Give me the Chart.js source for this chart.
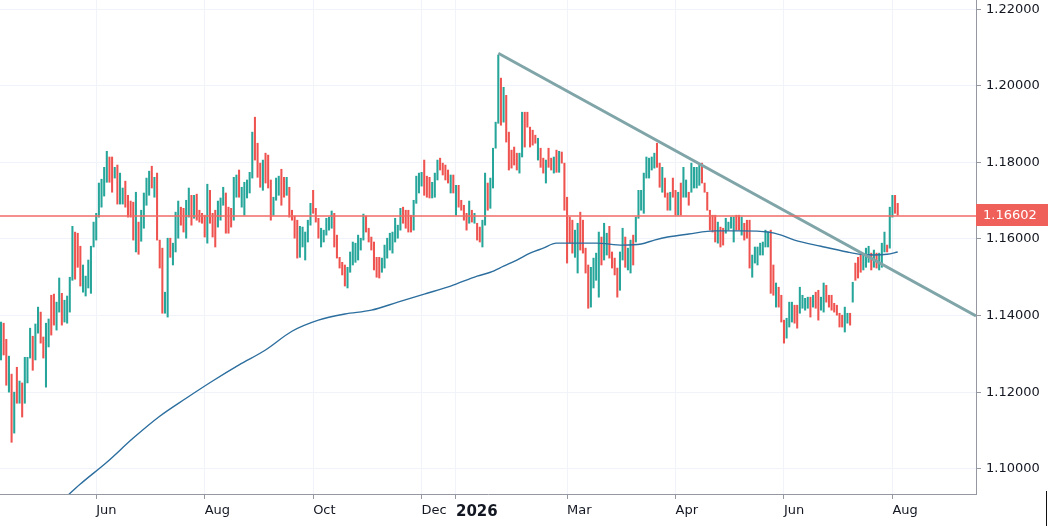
<!DOCTYPE html>
<html>
<head>
<meta charset="utf-8">
<title>Price chart</title>
<script src="https://cdn.jsdelivr.net/npm/chart.js@4.4.1/dist/chart.umd.min.js"></script>
<style>
  html, body { margin: 0; padding: 0; background: #fff; }
  #wrap { position: relative; width: 1048px; height: 526px; }
</style>
</head>
<body>
<div id="wrap"><canvas id="chart"></canvas></div>
<script>
// Daily bars (high / low, u = up bar, d = down bar)
const barHigh = [
  1.1383,1.1380,1.1338,1.1294,1.1247,1.1200,1.1265,1.1229,1.1224,1.1291,
  1.1291,1.1367,1.1346,1.1378,1.1422,1.1409,1.1344,1.1380,1.1391,1.1453,
  1.1456,1.1435,1.1498,1.1458,1.1440,1.1451,1.1500,1.1633,1.1618,1.1615,
  1.1581,1.1532,1.1503,1.1545,1.1581,1.1644,1.1667,1.1746,1.1756,1.1787,
  1.1829,1.1814,1.1814,1.1787,1.1793,1.1772,1.1733,1.1751,1.1714,1.1699,
  1.1696,1.1722,1.1644,1.1675,1.1720,1.1759,1.1777,1.1790,1.1761,1.1772,
  1.1597,1.1576,1.1461,1.1602,1.1602,1.1589,1.1670,1.1699,1.1683,1.1680,
  1.1701,1.1733,1.1714,1.1714,1.1717,1.1675,1.1667,1.1662,1.1743,1.1727,
  1.1667,1.1675,1.1699,1.1707,1.1735,1.1720,1.1683,1.1680,1.1761,1.1767,
  1.1780,1.1735,1.1748,1.1754,1.1774,1.1879,1.1918,1.1850,1.1798,1.1806,
  1.1824,1.1819,1.1754,1.1709,1.1759,1.1764,1.1782,1.1761,1.1761,1.1735,
  1.1675,1.1660,1.1649,1.1633,1.1631,1.1618,1.1649,1.1693,1.1727,1.1680,
  1.1654,1.1628,1.1623,1.1654,1.1657,1.1673,1.1667,1.1610,1.1552,1.1539,
  1.1532,1.1526,1.1566,1.1592,1.1589,1.1610,1.1602,1.1665,1.1660,1.1628,
  1.1605,1.1592,1.1552,1.1552,1.1550,1.1584,1.1602,1.1615,1.1618,1.1654,
  1.1636,1.1680,1.1683,1.1675,1.1675,1.1662,1.1701,1.1764,1.1772,1.1774,
  1.1806,1.1764,1.1761,1.1748,1.1772,1.1806,1.1811,1.1798,1.1793,1.1780,
  1.1767,1.1767,1.1740,1.1740,1.1701,1.1688,1.1667,1.1699,1.1675,1.1667,
  1.1641,1.1631,1.1649,1.1772,1.1746,1.1759,1.1837,1.1905,1.2080,1.2020,
  1.1996,1.1975,1.1879,1.1832,1.1840,1.1824,1.1824,1.1931,1.1931,1.1931,
  1.1892,1.1884,1.1871,1.1863,1.1837,1.1811,1.1806,1.1837,1.1811,1.1814,
  1.1832,1.1829,1.1827,1.1798,1.1709,1.1657,1.1649,1.1623,1.1641,1.1670,
  1.1649,1.1576,1.1532,1.1526,1.1550,1.1563,1.1618,1.1605,1.1641,1.1615,
  1.1633,1.1566,1.1550,1.1524,1.1566,1.1628,1.1605,1.1576,1.1597,1.1610,
  1.1657,1.1727,1.1727,1.1772,1.1814,1.1811,1.1814,1.1824,1.1850,1.1798,
  1.1787,1.1759,1.1720,1.1722,1.1759,1.1727,1.1722,1.1746,1.1787,1.1754,
  1.1722,1.1798,1.1787,1.1787,1.1793,1.1798,1.1746,1.1722,1.1675,1.1662,
  1.1662,1.1644,1.1631,1.1628,1.1654,1.1644,1.1657,1.1657,1.1662,1.1662,
  1.1657,1.1641,1.1649,1.1649,1.1558,1.1579,1.1579,1.1589,1.1592,1.1623,
  1.1618,1.1623,1.1532,1.1485,1.1474,1.1453,1.1388,1.1393,1.1435,1.1435,
  1.1427,1.1427,1.1474,1.1453,1.1445,1.1448,1.1448,1.1453,1.1461,1.1466,
  1.1448,1.1485,1.1479,1.1453,1.1453,1.1432,1.1427,1.1406,1.1401,1.1422,
  1.1406,1.1406,1.1487,1.1537,1.1552,1.1558,1.1558,1.1576,1.1581,1.1563,
  1.1571,1.1563,1.1563,1.1589,1.1618,1.1584,1.1683,1.1714,1.1714,1.1693
];
const barLow = [
  1.1284,1.1297,1.1218,1.1200,1.1069,1.1093,1.1171,1.1171,1.1135,1.1171,
  1.1224,1.1289,1.1257,1.1284,1.1354,1.1328,1.1289,1.1213,1.1318,1.1349,
  1.1375,1.1362,1.1409,1.1375,1.1383,1.1380,1.1409,1.1492,1.1495,1.1526,
  1.1477,1.1461,1.1451,1.1472,1.1458,1.1579,1.1597,1.1657,1.1683,1.1712,
  1.1748,1.1748,1.1722,1.1759,1.1691,1.1691,1.1691,1.1683,1.1657,1.1657,
  1.1597,1.1566,1.1560,1.1594,1.1628,1.1688,1.1714,1.1733,1.1709,1.1597,
  1.1524,1.1406,1.1406,1.1396,1.1552,1.1532,1.1566,1.1602,1.1636,1.1618,
  1.1602,1.1657,1.1636,1.1654,1.1649,1.1644,1.1641,1.1605,1.1589,1.1641,
  1.1605,1.1579,1.1631,1.1649,1.1688,1.1615,1.1615,1.1631,1.1649,1.1709,
  1.1709,1.1683,1.1662,1.1707,1.1720,1.1759,1.1806,1.1761,1.1735,1.1727,
  1.1746,1.1733,1.1649,1.1662,1.1701,1.1714,1.1688,1.1709,1.1714,1.1657,
  1.1649,1.1602,1.1550,1.1552,1.1579,1.1545,1.1592,1.1636,1.1667,1.1644,
  1.1602,1.1579,1.1592,1.1610,1.1623,1.1628,1.1579,1.1550,1.1524,1.1506,
  1.1477,1.1472,1.1513,1.1532,1.1539,1.1545,1.1571,1.1597,1.1618,1.1592,
  1.1571,1.1519,1.1500,1.1498,1.1513,1.1524,1.1550,1.1571,1.1563,1.1592,
  1.1602,1.1623,1.1641,1.1628,1.1618,1.1618,1.1623,1.1693,1.1720,1.1738,
  1.1714,1.1709,1.1707,1.1707,1.1709,1.1754,1.1780,1.1767,1.1754,1.1746,
  1.1720,1.1720,1.1662,1.1683,1.1675,1.1649,1.1623,1.1641,1.1644,1.1641,
  1.1597,1.1592,1.1579,1.1636,1.1675,1.1680,1.1733,1.1837,1.1902,1.1897,
  1.1905,1.1853,1.1780,1.1785,1.1793,1.1780,1.1772,1.1814,1.1840,1.1892,
  1.1840,1.1845,1.1850,1.1806,1.1787,1.1772,1.1746,1.1787,1.1780,1.1772,
  1.1774,1.1774,1.1798,1.1675,1.1537,1.1589,1.1563,1.1552,1.1511,1.1571,
  1.1563,1.1511,1.1419,1.1422,1.1472,1.1492,1.1448,1.1532,1.1545,1.1558,
  1.1550,1.1524,1.1506,1.1448,1.1466,1.1545,1.1526,1.1519,1.1511,1.1532,
  1.1592,1.1654,1.1675,1.1667,1.1759,1.1759,1.1780,1.1785,1.1787,1.1735,
  1.1722,1.1709,1.1675,1.1675,1.1709,1.1662,1.1662,1.1662,1.1709,1.1709,
  1.1688,1.1722,1.1733,1.1733,1.1740,1.1746,1.1722,1.1675,1.1623,1.1618,
  1.1592,1.1589,1.1579,1.1584,1.1615,1.1623,1.1628,1.1592,1.1623,1.1623,
  1.1610,1.1597,1.1602,1.1524,1.1500,1.1537,1.1532,1.1558,1.1558,1.1579,
  1.1579,1.1458,1.1453,1.1422,1.1422,1.1383,1.1328,1.1341,1.1370,1.1383,
  1.1380,1.1367,1.1406,1.1419,1.1414,1.1419,1.1396,1.1422,1.1419,1.1388,
  1.1414,1.1409,1.1435,1.1422,1.1414,1.1409,1.1401,1.1370,1.1370,1.1357,
  1.1380,1.1375,1.1435,1.1492,1.1498,1.1513,1.1519,1.1526,1.1539,1.1519,
  1.1526,1.1524,1.1519,1.1526,1.1566,1.1566,1.1576,1.1657,1.1667,1.1662
];
const barDir = (
  'uddudududu' + 'uuduudduud' + 'duuduuuudd' + 'duuuuuuuuu' + 'udduduuddd' +
  'duduuuudud' + 'dduuduuudd' + 'uududdddud' + 'dduuuddduu' + 'duuuuudddu' +
  'ddduuuddud' + 'ddduuuuudd' + 'duuuuudddd' + 'duuuuuuudd' + 'dddduuuuuu' +
  'uudddduuuu' + 'ddduuudddd' + 'ududdddudu' + 'dduuduuuud' + 'uddddduudd' +
  'dddudduddu' + 'duddddduud' + 'ddduuuuduu' + 'dddduuduud' + 'uuuuuuuudd' +
  'uddudduduu' + 'duuuuddddd' + 'dudduuuudd' + 'uddduuuuuu' + 'udduddduuu' +
  'dduuuududd' + 'uudddddddu' + 'ududdduuud' + 'uduuuduudd'
).split('');

// moving average, sampled at bar positions
const maIdx = [20, 30, 40, 50, 60, 70, 80, 90, 100, 110, 120, 130, 140, 150, 160, 170, 180, 185,
  190, 195, 200, 205, 210, 215, 225, 235, 242, 247, 252, 260, 270, 280, 290, 295, 300, 310,
  320, 325, 330, 335, 339];
const maVal = [1.0897, 1.0960, 1.1017, 1.1080, 1.1137, 1.1184, 1.1229, 1.1271, 1.1310, 1.1359,
  1.1388, 1.1404, 1.1414, 1.1435, 1.1456, 1.1477, 1.1503, 1.1513, 1.1529, 1.1545, 1.1563,
  1.1576, 1.1589, 1.1589, 1.1589, 1.1584, 1.1587, 1.1597, 1.1605, 1.1613, 1.1621, 1.1621,
  1.1618, 1.1610, 1.1597, 1.1581, 1.1566, 1.1560, 1.1558, 1.1560, 1.1566];

// descending trendline from the January top
const trendIdx = [188, 368.6];
const trendVal = [1.2085, 1.1399];

const lastPrice = 1.16602;

const priceTicks = [1.10, 1.12, 1.14, 1.16, 1.18, 1.20, 1.22];
const timeTickIdx = [36, 77, 118, 159, 172, 214, 255, 296, 337];
const timeTickLabels = ['Jun', 'Aug', 'Oct', 'Dec', '2026', 'Mar', 'Apr', 'Jun', 'Aug'];

const UP = '#26a69a';
const DOWN = '#ef5350';
const FONT = 'DejaVu Sans';

// current price line + label on the price axis
const priceLine = {
    id: 'priceLine',
    afterDatasetsDraw(chart) {
        const { ctx, chartArea, scales } = chart;
        const y = Math.round(scales.y.getPixelForValue(lastPrice));
        ctx.save();
        ctx.strokeStyle = '#f06b66';
        ctx.lineWidth = 1.3;
        ctx.beginPath();
        ctx.moveTo(chartArea.left, y);
        ctx.lineTo(chartArea.right, y);
        ctx.stroke();

        ctx.fillStyle = '#f0605b';
        ctx.fillRect(chartArea.right, y - 12, chart.width - chartArea.right, 22);
        ctx.fillStyle = '#ffffff';
        ctx.font = '13px "' + FONT + '"';
        ctx.textBaseline = 'middle';
        ctx.fillText(lastPrice.toFixed(5), chartArea.right + 7, y);

        // little dark mark at the bottom right corner of the screenshot
        ctx.fillStyle = '#111';
        ctx.fillRect(chart.width - 2, chart.height - 35, 1, 35);
        ctx.restore();
    }
};

document.addEventListener('DOMContentLoaded', function() {
    const ctx = document.getElementById('chart');

    new Chart(ctx, {
        type: 'bar',
        data: {
            datasets: [
                {
                    type: 'line',
                    label: 'Trend',
                    data: trendIdx.map((x, i) => ({ x: x, y: trendVal[i] })),
                    borderColor: '#80a5a8',
                    borderWidth: 3,
                    pointRadius: 0,
                    order: 1
                },
                {
                    type: 'line',
                    label: 'MA',
                    data: maIdx.map((x, i) => ({ x: x, y: maVal[i] })),
                    borderColor: '#2c6e9e',
                    borderWidth: 1.4,
                    pointRadius: 0,
                    cubicInterpolationMode: 'monotone',
                    order: 2
                },
                {
                    type: 'bar',
                    label: 'Price',
                    data: barHigh.map((h, i) => ({ x: i, y: [barLow[i], h] })),
                    backgroundColor: barDir.map(d => d === 'u' ? UP : DOWN),
                    borderWidth: 0,
                    barThickness: 1.4,
                    grouped: false,
                    order: 3
                }
            ]
        },
        options: {
            responsive: true,
            maintainAspectRatio: false,
            animation: false,
            layout: { padding: 0, autoPadding: false },
            plugins: {
                legend: { display: false },
                tooltip: { enabled: false }
            },
            scales: {
                x: {
                    type: 'linear',
                    min: -0.38,
                    max: 368.6,
                    offset: false,
                    afterBuildTicks: s => { s.ticks = timeTickIdx.map(v => ({ value: v })); },
                    afterFit: s => {
                        s.height = 32;
                        s.paddingLeft = 0;
                        s.paddingRight = 0;
                    },
                    grid: { offset: false, color: '#f0f3fa', tickColor: '#9598a1', tickLength: 5 },
                    border: { color: '#9598a1' },
                    ticks: {
                        autoSkip: false,
                        maxRotation: 0,
                        align: 'start',
                        padding: 4,
                        color: '#131722',
                        callback: (v, i) => timeTickLabels[i],
                        font: c => timeTickLabels[c.index] === '2026'
                            ? { family: FONT, size: 15, weight: 'bold' }
                            : { family: FONT, size: 13 }
                    }
                },
                y: {
                    position: 'right',
                    min: 1.0934,
                    max: 1.2224,
                    afterBuildTicks: s => { s.ticks = priceTicks.map(v => ({ value: v })); },
                    afterFit: s => {
                        s.width = 72;
                        s.paddingTop = 0;
                        s.paddingBottom = 0;
                    },
                    grid: { color: '#f0f3fa', tickColor: '#9598a1', tickLength: 5 },
                    border: { color: '#9598a1' },
                    ticks: {
                        padding: 5,
                        color: '#131722',
                        font: { family: FONT, size: 13 },
                        callback: v => v.toFixed(5)
                    }
                }
            }
        },
        plugins: [priceLine]
    });
});
</script>
</body>
</html>
